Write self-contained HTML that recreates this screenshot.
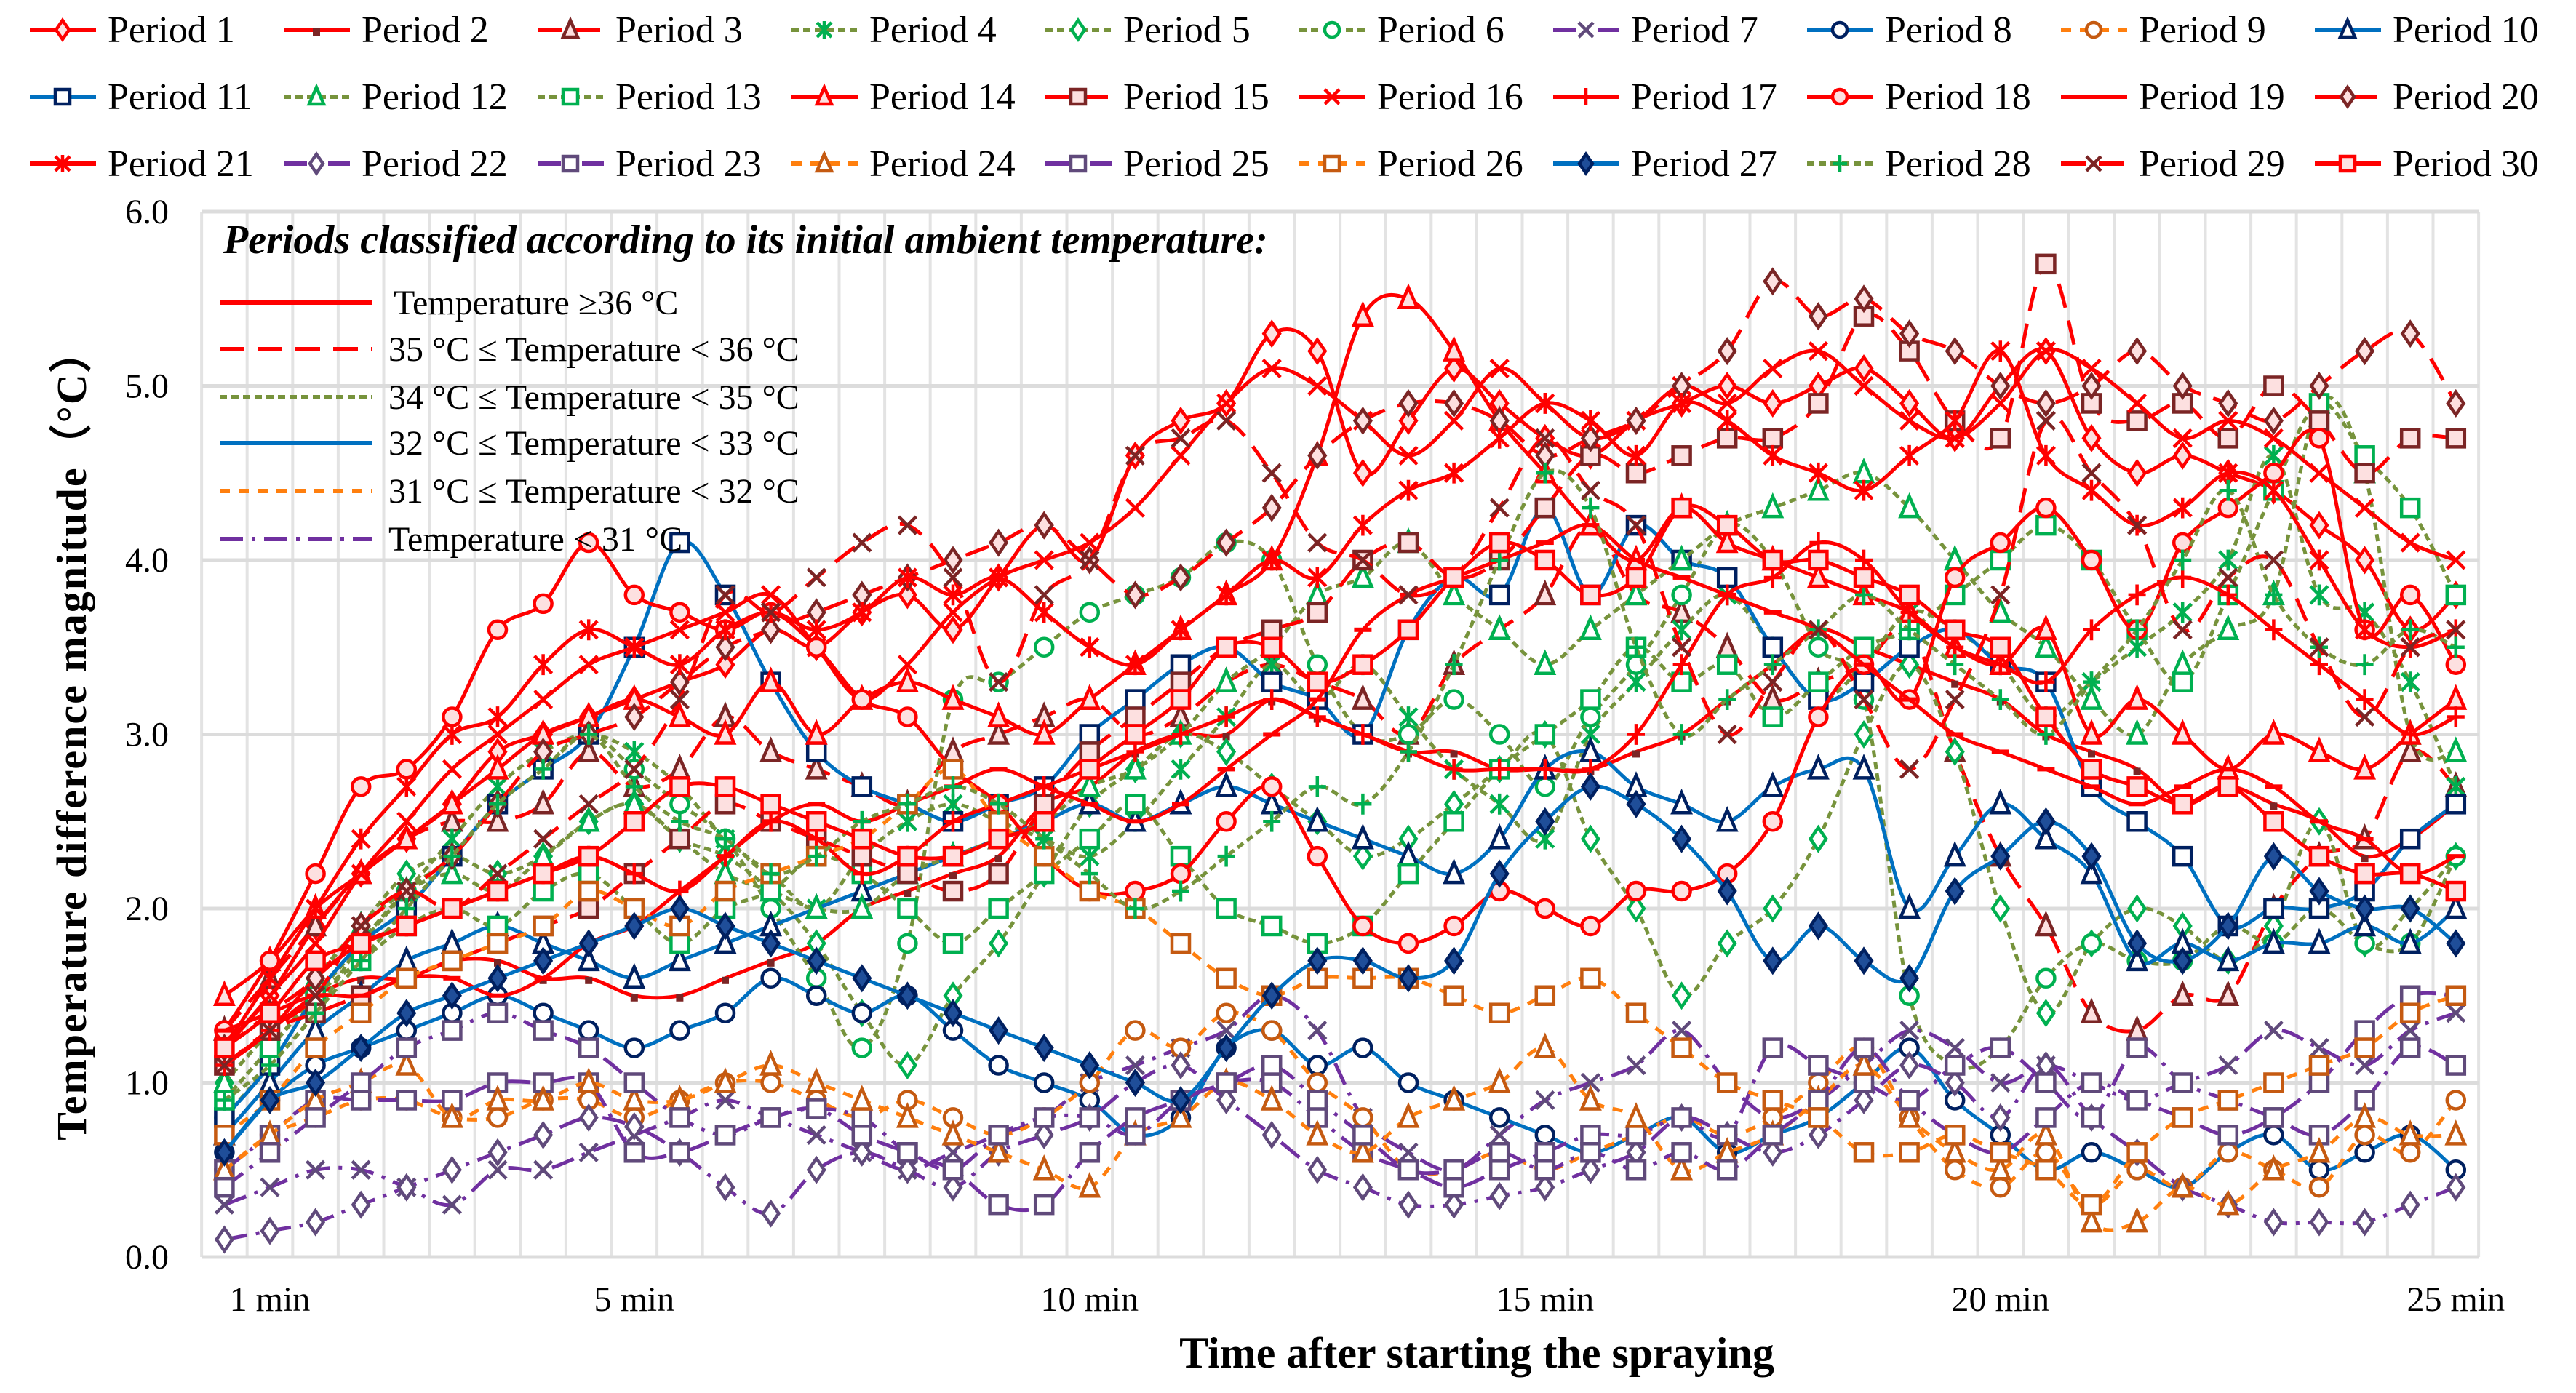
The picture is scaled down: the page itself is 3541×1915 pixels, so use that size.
<!DOCTYPE html>
<html><head><meta charset="utf-8"><style>
html,body{margin:0;padding:0;background:#fff;}
svg, svg text{font-family:"Liberation Serif","Times New Roman","DejaVu Serif",serif !important;}
</style></head><body>
<svg id="chart" xmlns="http://www.w3.org/2000/svg" width="3541" height="1910" viewBox="0 0 3541 1910" font-family="Liberation Serif, Times New Roman, serif">
<rect width="3541" height="1910" fill="#fff"/>
<g id="grid"></g>
<g id="yticks"></g>
<g id="xticks"></g>
<g id="series"></g>
<g id="legend"></g>
<g id="inner-legend">
<text x="307" y="348" font-size="56" font-weight="bold" font-style="italic" font-family="Liberation Serif, serif">Periods classified according to its initial ambient temperature:</text>
</g>
<text transform="translate(118,1010) rotate(-90)" text-anchor="middle" font-size="58" font-weight="bold" letter-spacing="2" font-family="Liberation Serif, serif">Temperature difference magnitude（°C）</text>
<text x="2030" y="1880" text-anchor="middle" font-size="60" font-weight="bold" font-family="Liberation Serif, serif">Time after  starting the spraying</text>
</svg>
<script>
const times = [];
for (let i = 1; i <= 50; i++) times.push(i * 0.5);
const yTicks = [0, 1, 2, 3, 4, 5, 6];
const xTickValues = [1, 5, 10, 15, 20, 25];
const xTickLabels = ["1 min", "5 min", "10 min", "15 min", "20 min", "25 min"];
const seriesNames = [];
for (let i = 1; i <= 30; i++) seriesNames.push("Period " + i);

const p1 = [1.2,1.5,1.9,2.2,2.4,2.6,2.9,3.0,3.1,3.2,3.3,3.4,3.6,3.5,3.7,3.8,3.6,3.9,4.2,4.0,4.6,4.8,4.9,5.3,5.2,4.5,4.8,5.1,4.9,4.7,4.6,4.8,4.9,5.0,4.9,5.0,5.1,4.9,4.7,5.0,5.2,4.7,4.5,4.6,4.5,4.4,4.2,4.0,3.6,3.8];
const p2 = [1.1,1.3,1.5,1.6,1.6,1.7,1.7,1.6,1.6,1.5,1.5,1.6,1.7,1.8,2.0,2.1,2.2,2.3,2.6,2.7,2.9,3.0,3.0,3.2,3.1,3.0,2.9,2.9,2.8,2.8,2.8,2.9,3.0,3.2,3.4,3.6,3.5,3.4,3.3,3.2,3.0,2.9,2.8,2.6,2.7,2.6,2.5,2.3,2.4,2.6];
const p3 = [1.3,1.6,1.9,2.2,2.4,2.5,2.5,2.6,2.9,2.7,2.8,3.1,2.9,2.8,2.7,2.6,2.9,3.0,3.1,3.2,3.0,3.1,3.3,3.4,3.3,3.2,3.0,3.4,3.6,3.8,4.2,3.8,3.7,3.5,3.2,3.3,3.4,3.6,2.9,2.3,1.9,1.4,1.3,1.5,1.5,2.0,2.3,2.4,2.9,2.7];
const p4 = [0.9,1.2,1.5,1.8,2.1,2.4,2.7,2.9,3.0,2.9,2.7,2.4,2.2,2.0,2.3,2.5,2.6,2.5,2.4,2.3,2.5,2.8,3.1,3.4,3.2,3.4,3.1,2.8,2.6,2.4,3.0,3.3,3.6,3.8,3.5,3.2,3.4,3.7,3.6,3.4,3.1,3.3,3.5,3.7,4.0,4.6,3.8,3.7,3.3,2.7];
const p5 = [1.0,1.3,1.6,1.9,2.2,2.3,2.2,2.3,2.5,2.6,2.4,2.3,2.1,1.8,1.4,1.1,1.5,1.8,2.2,2.6,2.8,3.0,2.9,2.7,2.5,2.3,2.4,2.6,2.8,3.0,2.4,2.0,1.5,1.8,2.0,2.4,3.0,3.4,2.9,2.0,1.4,1.8,2.0,1.9,1.7,1.9,2.5,1.8,2.0,2.3];
const p6 = [0.8,1.1,1.4,1.8,2.1,2.3,2.6,2.8,3.0,2.8,2.6,2.4,2.0,1.6,1.2,1.8,3.2,3.3,3.5,3.7,3.8,3.9,4.1,4.0,3.4,3.0,3.0,3.2,3.0,2.7,3.1,3.4,3.8,4.2,4.0,3.5,3.2,1.5,1.1,1.2,1.6,1.8,1.7,1.7,1.9,1.8,2.0,1.8,1.8,2.3];
const p7 = [0.3,0.4,0.5,0.5,0.4,0.3,0.5,0.5,0.6,0.7,0.8,0.9,0.8,0.7,0.6,0.5,0.6,0.7,0.8,1.0,1.1,1.2,1.3,1.5,1.3,0.8,0.6,0.5,0.7,0.9,1.0,1.1,1.3,1.0,0.8,0.9,1.1,1.3,1.2,1.0,1.1,1.0,0.9,1.0,1.1,1.3,1.2,1.1,1.3,1.4];
const p8 = [0.6,0.9,1.1,1.2,1.3,1.4,1.5,1.4,1.3,1.2,1.3,1.4,1.6,1.5,1.4,1.5,1.3,1.1,1.0,0.9,0.7,0.8,1.2,1.3,1.1,1.2,1.0,0.9,0.8,0.7,0.6,0.7,0.8,0.6,0.7,0.8,1.0,1.2,0.9,0.7,0.5,0.6,0.5,0.4,0.6,0.7,0.5,0.6,0.7,0.5];
const p9 = [0.5,0.7,0.8,0.9,0.9,0.8,0.8,0.9,0.9,0.8,0.9,1.0,1.0,0.9,0.8,0.9,0.8,0.7,0.8,1.0,1.3,1.2,1.4,1.3,1.0,0.8,0.5,0.5,0.6,0.5,0.6,0.7,0.8,0.7,0.8,1.0,1.2,0.8,0.5,0.4,0.6,0.3,0.5,0.4,0.6,0.5,0.4,0.7,0.6,0.9];
const p10 = [0.7,1.0,1.3,1.5,1.7,1.8,1.9,1.8,1.7,1.6,1.7,1.8,1.9,2.0,2.1,2.2,2.3,2.4,2.5,2.6,2.5,2.6,2.7,2.6,2.5,2.4,2.3,2.2,2.4,2.8,2.9,2.7,2.6,2.5,2.7,2.8,2.8,2.0,2.3,2.6,2.4,2.2,1.7,1.8,1.7,1.8,1.8,1.9,1.8,2.0];
const p11 = [0.8,1.1,1.5,1.8,2.0,2.3,2.6,2.8,3.0,3.5,4.1,3.8,3.3,2.9,2.7,2.6,2.5,2.6,2.7,3.0,3.2,3.4,3.5,3.3,3.2,3.0,3.6,3.9,3.8,4.3,3.8,4.2,4.0,3.9,3.5,3.2,3.3,3.5,3.6,3.4,3.3,2.7,2.5,2.3,1.9,2.0,2.0,2.1,2.4,2.6];
const p12 = [1.0,1.3,1.6,1.9,2.1,2.2,2.1,2.3,2.5,2.6,2.4,2.2,2.1,2.0,2.0,2.2,2.3,2.4,2.5,2.7,2.8,3.0,3.3,3.5,3.8,3.9,4.1,3.8,3.6,3.4,3.6,3.8,4.0,4.2,4.3,4.4,4.5,4.3,4.0,3.7,3.5,3.2,3.0,3.4,3.6,3.8,4.9,4.5,3.0,2.9];
const p13 = [0.9,1.2,1.5,1.7,1.9,2.0,1.9,2.1,2.2,2.0,1.8,2.0,2.1,2.3,2.2,2.0,1.8,2.0,2.2,2.4,2.6,2.3,2.0,1.9,1.8,1.9,2.2,2.5,2.8,3.0,3.2,3.5,3.3,3.4,3.1,3.3,3.5,3.6,3.8,4.0,4.2,4.0,3.6,3.3,3.8,4.4,4.9,4.6,4.3,3.8];
const p14 = [1.5,1.7,2.0,2.2,2.4,2.6,2.8,3.0,3.1,3.2,3.1,3.0,3.3,3.0,3.2,3.3,3.2,3.1,3.0,3.2,3.4,3.6,3.8,4.0,4.6,5.4,5.5,5.2,4.8,4.5,4.2,4.0,4.3,4.1,4.0,3.9,3.8,3.7,3.5,3.4,3.6,3.0,3.2,3.0,2.8,3.0,2.9,2.8,3.0,3.2];
const p15 = [1.1,1.3,1.4,1.5,1.6,1.7,1.8,1.9,2.0,2.2,2.4,2.6,2.5,2.4,2.3,2.2,2.1,2.2,2.6,2.9,3.1,3.3,3.5,3.6,3.7,4.0,4.1,3.9,4.0,4.3,4.6,4.5,4.6,4.7,4.7,4.9,5.4,5.2,4.8,4.7,5.7,4.9,4.8,4.9,4.7,5.0,4.8,4.5,4.7,4.7];
const p16 = [1.2,1.5,1.8,2.2,2.5,2.8,3.0,3.2,3.4,3.5,3.6,3.7,3.8,3.5,3.2,3.4,3.7,3.9,4.0,4.1,4.3,4.6,4.9,5.1,5.0,4.8,4.6,4.8,5.1,4.9,4.7,4.8,5.0,4.9,5.1,5.2,5.0,4.8,4.7,4.9,5.2,5.1,4.9,4.7,4.8,4.7,4.5,4.3,4.1,4.0];
const p17 = [1.1,1.3,1.6,1.8,1.9,2.0,2.1,2.2,2.3,2.2,2.1,2.3,2.5,2.4,2.2,2.3,2.5,2.6,2.7,2.8,2.9,3.0,3.1,3.2,3.1,3.0,2.9,2.8,2.8,2.8,2.8,3.0,3.4,3.8,3.9,4.1,4.0,3.7,3.5,3.4,3.3,3.6,3.8,3.9,3.8,3.6,3.4,3.2,3.0,3.1];
const p18 = [1.3,1.7,2.2,2.7,2.8,3.1,3.6,3.75,4.1,3.8,3.7,3.6,3.7,3.5,3.2,3.1,2.8,2.6,2.3,2.1,2.1,2.2,2.5,2.7,2.3,1.9,1.8,1.9,2.1,2.0,1.9,2.1,2.1,2.2,2.5,3.1,3.4,3.2,3.9,4.1,4.3,4.0,3.6,4.1,4.3,4.5,4.7,3.6,3.8,3.4];
const p19 = [1.3,1.4,1.5,1.5,1.6,1.6,1.5,1.6,1.8,1.9,2.1,2.3,2.5,2.6,2.5,2.6,2.7,2.8,2.7,2.6,2.5,2.6,2.8,3.0,3.2,3.6,3.8,3.9,4.0,4.1,4.2,4.0,3.9,3.8,3.7,3.6,3.4,3.2,3.0,2.9,2.8,2.7,2.6,2.7,2.8,2.7,2.5,2.4,2.2,2.3];
const p20 = [1.2,1.4,1.6,1.9,2.1,2.3,2.6,2.9,3.0,3.1,3.3,3.5,3.6,3.7,3.8,3.9,4.0,4.1,4.2,4.0,3.8,3.9,4.1,4.3,4.6,4.8,4.9,4.9,4.8,4.6,4.7,4.8,5.0,5.2,5.6,5.4,5.5,5.3,5.2,5.0,4.9,5.0,5.2,5.0,4.9,4.8,5.0,5.2,5.3,4.9];
const p21 = [1.2,1.6,2.0,2.4,2.7,3.0,3.1,3.4,3.6,3.5,3.4,3.6,3.7,3.6,3.7,3.9,3.8,3.9,3.7,3.5,3.4,3.6,3.8,4.0,3.9,4.2,4.4,4.5,4.7,4.9,4.8,4.6,4.9,4.8,4.6,4.5,4.4,4.6,4.8,5.2,4.6,4.4,4.2,4.3,4.5,4.4,4.0,3.6,3.5,3.6];
const p22 = [0.1,0.15,0.2,0.3,0.4,0.5,0.6,0.7,0.8,0.75,0.6,0.4,0.25,0.5,0.6,0.5,0.4,0.6,0.7,0.8,1.0,1.1,0.9,0.7,0.5,0.4,0.3,0.3,0.35,0.4,0.5,0.6,0.8,0.7,0.6,0.7,0.9,1.1,1.0,0.8,1.1,0.8,0.6,0.4,0.3,0.2,0.2,0.2,0.3,0.4];
const p23 = [0.5,0.7,0.9,0.9,0.9,0.9,1.0,1.0,1.0,0.6,0.6,0.7,0.8,0.85,0.8,0.6,0.5,0.3,0.3,0.6,0.8,0.9,1.0,1.0,0.8,0.6,0.5,0.4,0.5,0.6,0.7,0.7,0.8,0.7,1.2,1.1,1.0,0.9,1.1,1.2,1.0,0.8,1.2,1.0,0.9,0.8,0.7,0.9,1.2,1.1];
const p24 = [0.5,0.7,0.9,1.0,1.1,0.8,0.9,0.9,1.0,0.9,0.9,1.0,1.1,1.0,0.9,0.8,0.7,0.6,0.5,0.4,0.7,0.8,1.0,0.9,0.7,0.6,0.8,0.9,1.0,1.2,0.9,0.8,0.5,0.6,0.7,0.9,1.1,0.8,0.6,0.5,0.7,0.2,0.2,0.4,0.3,0.5,0.6,0.8,0.7,0.7];
const p25 = [0.4,0.6,0.8,1.0,1.2,1.3,1.4,1.3,1.2,1.0,0.8,0.7,0.8,0.85,0.7,0.6,0.5,0.7,0.8,0.8,0.7,0.9,1.0,1.1,0.9,0.7,0.5,0.5,0.6,0.5,0.6,0.5,0.6,0.5,0.7,0.9,1.2,0.9,0.7,0.6,0.8,1.0,0.9,0.8,0.7,0.8,1.0,1.3,1.5,1.5];
const p26 = [0.7,0.9,1.2,1.4,1.6,1.7,1.8,1.9,2.1,2.0,1.9,2.1,2.2,2.3,2.4,2.6,2.8,2.5,2.3,2.1,2.0,1.8,1.6,1.5,1.6,1.6,1.6,1.5,1.4,1.5,1.6,1.4,1.2,1.0,0.9,0.8,0.6,0.6,0.7,0.6,0.5,0.3,0.6,0.8,0.9,1.0,1.1,1.2,1.4,1.5];
const p27 = [0.6,0.9,1.0,1.2,1.4,1.5,1.6,1.7,1.8,1.9,2.0,1.9,1.8,1.7,1.6,1.5,1.4,1.3,1.2,1.1,1.0,0.9,1.2,1.5,1.7,1.7,1.6,1.7,2.2,2.5,2.7,2.6,2.4,2.1,1.7,1.9,1.7,1.6,2.1,2.3,2.5,2.3,1.8,1.7,1.9,2.3,2.1,2.0,2.0,1.8];
const p28 = [0.9,1.1,1.4,1.7,2.0,2.3,2.6,2.8,3.0,2.7,2.5,2.4,2.2,2.3,2.5,2.6,2.7,2.6,2.4,2.2,2.0,2.1,2.3,2.5,2.7,2.6,2.9,3.4,4.0,4.5,4.3,3.5,3.0,3.2,3.4,3.6,3.8,3.6,3.4,3.2,3.0,3.3,3.6,4.0,4.4,3.8,3.5,3.4,3.6,3.5];
const p29 = [1.1,1.3,1.5,1.9,2.1,2.0,2.2,2.4,2.6,2.8,3.2,3.8,3.7,3.9,4.1,4.2,3.9,3.3,3.8,4.0,4.6,4.7,4.8,4.5,4.1,4.0,3.8,3.9,4.3,4.7,4.4,4.2,3.5,3.0,3.3,3.6,3.2,2.8,3.2,3.8,4.8,4.5,4.2,3.6,3.9,4.0,3.5,3.1,3.5,3.6];
const p30 = [1.2,1.4,1.7,1.8,1.9,2.0,2.1,2.2,2.3,2.5,2.7,2.7,2.6,2.5,2.4,2.3,2.3,2.4,2.5,2.8,3.0,3.2,3.5,3.5,3.3,3.4,3.6,3.9,4.1,4.0,3.8,3.9,4.3,4.2,4.0,4.0,3.9,3.8,3.6,3.5,3.1,2.8,2.7,2.6,2.7,2.5,2.3,2.2,2.2,2.1];
const seriesValues = [p1,p2,p3,p4,p5,p6,p7,p8,p9,p10,p11,p12,p13,p14,p15,p16,p17,p18,p19,p20,p21,p22,p23,p24,p25,p26,p27,p28,p29,p30];

const R='#ff0000', DR='#7b2525', GL='#77933c', GM='#00b050', BL='#0070c0', NV='#002060', OR='#ff7f0e', OM='#c55a11', PU='#7030a0', PM='#604a7b';
const D_RED='', D_RDASH='34,18', D_GREEN='10,6', D_ORANGE='14,12', D_PURPLE='32,12,5,12';
const styles = [
 [R,R,D_RED,'diamond'],[R,DR,D_RED,'dot'],[R,DR,D_RDASH,'triangle'],[GL,GM,D_GREEN,'asterisk'],[GL,GM,D_GREEN,'diamond'],
 [GL,GM,D_GREEN,'circle'],[PU,PM,D_PURPLE,'x'],[BL,NV,D_RED,'circle'],[OR,OM,D_ORANGE,'circle'],[BL,NV,D_RED,'triangle'],
 [BL,NV,D_RED,'square'],[GL,GM,D_GREEN,'triangle'],[GL,GM,D_GREEN,'square'],[R,R,D_RED,'triangle'],[R,DR,D_RDASH,'square'],
 [R,R,D_RED,'x'],[R,R,D_RED,'plus'],[R,R,D_RED,'circle'],[R,R,D_RED,'dash'],[R,DR,D_RDASH,'diamond'],
 [R,R,D_RED,'asterisk'],[PU,PM,D_PURPLE,'diamond'],[PU,PM,D_PURPLE,'square'],[OR,OM,D_ORANGE,'triangle'],[PU,PM,D_PURPLE,'square'],
 [OR,OM,D_ORANGE,'square'],[BL,NV,D_RED,'filldiamond'],[GL,GM,D_GREEN,'plus'],[R,DR,D_RDASH,'x'],[R,R,D_RED,'square']
];

const NS='http://www.w3.org/2000/svg';
const FONT='Liberation Serif, Times New Roman, serif';
const X0=371, PXMIN=125.2, Y0=1728, Y6=291;
function xs(t){return X0+(t-1)*PXMIN;}
function ys(v){return Y0-(v/6)*(Y0-Y6);}
function el(tag,attrs,parent){const e=document.createElementNS(NS,tag);for(const k in attrs)e.setAttribute(k,attrs[k]);if(parent)parent.appendChild(e);return e;}

const grid=document.getElementById('grid');
const L=xs(0.25), Rr=xs(25.25);
for(let k=0;k<=50;k++){const x=xs(0.25+0.5*k);
 const g=el('line',{x1:x,x2:x,y1:Y6,y2:Y0,stroke:'#e3e3e3','stroke-width':4},grid);
 
 }
const yt=document.getElementById('yticks');
yTicks.forEach(v=>{const y=ys(v);
 const g=el('line',{x1:L,x2:Rr,y1:y,y2:y,stroke:'#dcdcdc','stroke-width':5},grid);
 
 
 const t=el('text',{x:232,y:y+16,'text-anchor':'end','font-size':48,'font-family':FONT},yt);
 t.textContent=v.toFixed(1);
 
 });
const xtg=document.getElementById('xticks');
xTickValues.forEach((v,i)=>{const t=el('text',{x:xs(v),y:1802,'text-anchor':'middle','font-size':48,'font-family':FONT},xtg);
 t.textContent=xTickLabels[i];
 
 });

function marker(parent,type,x,y,c,fill,r){
 r=r||12; const sw=4.5; let m;
 if(type==='circle') m=el('circle',{cx:x,cy:y,r:r,fill:fill,stroke:c,'stroke-width':sw},parent);
 else if(type==='square') m=el('rect',{x:x-r,y:y-r,width:2*r,height:2*r,fill:fill,stroke:c,'stroke-width':sw},parent);
 else if(type==='diamond'||type==='filldiamond') m=el('polygon',{points:`${x},${y-r*1.3} ${x+r*0.9},${y} ${x},${y+r*1.3} ${x-r*0.9},${y}`,fill:type==='filldiamond'?'#1f4e99':fill,stroke:c,'stroke-width':sw},parent);
 else if(type==='triangle') m=el('polygon',{points:`${x},${y-r*1.3} ${x+r},${y+r} ${x-r},${y+r}`,fill:fill,stroke:c,'stroke-width':sw},parent);
 else if(type==='dot') m=el('rect',{x:x-5,y:y-2,width:10,height:10,fill:c},parent);
 else if(type==='dash') m=el('rect',{x:x-r,y:y-3,width:2*r,height:6,fill:c},parent);
 else { let d='';
  if(type==='x'||type==='asterisk') d+=`M${x-r},${y-r}L${x+r},${y+r}M${x-r},${y+r}L${x+r},${y-r}`;
  if(type==='plus'||type==='asterisk') d+=`M${x},${y-r*1.2}L${x},${y+r*1.2}`;
  if(type==='plus') d+=`M${x-r},${y}L${x+r},${y}`;
  m=el('path',{d:d,stroke:c,'stroke-width':sw,fill:'none'},parent);}
 return m;
}
function smooth(pts){let d=`M${pts[0][0]},${pts[0][1]}`;
 for(let i=0;i<pts.length-1;i++){const p0=pts[i-1]||pts[i],p1=pts[i],p2=pts[i+1],p3=pts[i+2]||p2;
  const c1=[p1[0]+(p2[0]-p0[0])/6,p1[1]+(p2[1]-p0[1])/6],c2=[p2[0]-(p3[0]-p1[0])/6,p2[1]-(p3[1]-p1[1])/6];
  d+=`C${c1[0].toFixed(1)},${c1[1].toFixed(1)} ${c2[0].toFixed(1)},${c2[1].toFixed(1)} ${p2[0].toFixed(1)},${p2[1].toFixed(1)}`;}
 return d;}

const sg=document.getElementById('series');
seriesValues.forEach((vals,si)=>{
 const [lc,mc,dash,mk]=styles[si];
 const g=el('g',{},sg);
 
 
 const pts=vals.map((v,i)=>[xs(times[i]),ys(v)]);
 const p=el('path',{d:smooth(pts),fill:'none',stroke:lc,'stroke-width':5,'stroke-dasharray':dash||'none'},g);
 
 
 const fill=(lc===R)?'#fde0e0':'#ffffff';
 pts.forEach(pt=>{const m=marker(g,mk,pt[0],pt[1],mc,fill);
  
  });
});

const lg=document.getElementById('legend');
seriesNames.forEach((n,i)=>{const row=Math.floor(i/10),col=i%10;
 const x=41+col*349, y=41+row*92;
 const [lc,mc,dash,mk]=styles[i];
 const g=el('g',{},lg);
 
 
 el('line',{x1:x,x2:x+91,y1:y,y2:y,stroke:lc,'stroke-width':6,'stroke-dasharray':dash||'none'},g);
 marker(g,mk,x+45,y,mc,(lc===R)?'#fde0e0':'#fff',10);
 const t=el('text',{x:x+107,y:y+17,'font-size':52,'font-family':FONT},g);
 t.textContent=n;
 
 });

const il=document.getElementById('inner-legend');
const cls=[['Temperature ≥36 °C',R,''],['35 °C ≤ Temperature < 36 °C',R,'34,18'],['34 °C ≤ Temperature < 35 °C',GL,'10,6'],['32 °C ≤ Temperature < 33 °C',BL,''],['31 °C ≤ Temperature < 32 °C',OR,'14,12'],['Temperature < 31 °C',PU,'32,12,5,12']];
const cy=[416,480,546,609,675,741];
cls.forEach((c,i)=>{const g=el('g',{},il);
 
 
 el('line',{x1:302,x2:512,y1:cy[i],y2:cy[i],stroke:c[1],'stroke-width':6,'stroke-dasharray':c[2]||'none'},g);
 const t=el('text',{x:i===0?541:534,y:cy[i]+16,'font-size':48,'font-family':FONT},g);
 t.textContent=c[0];
 
 });
</script>
</body></html>
